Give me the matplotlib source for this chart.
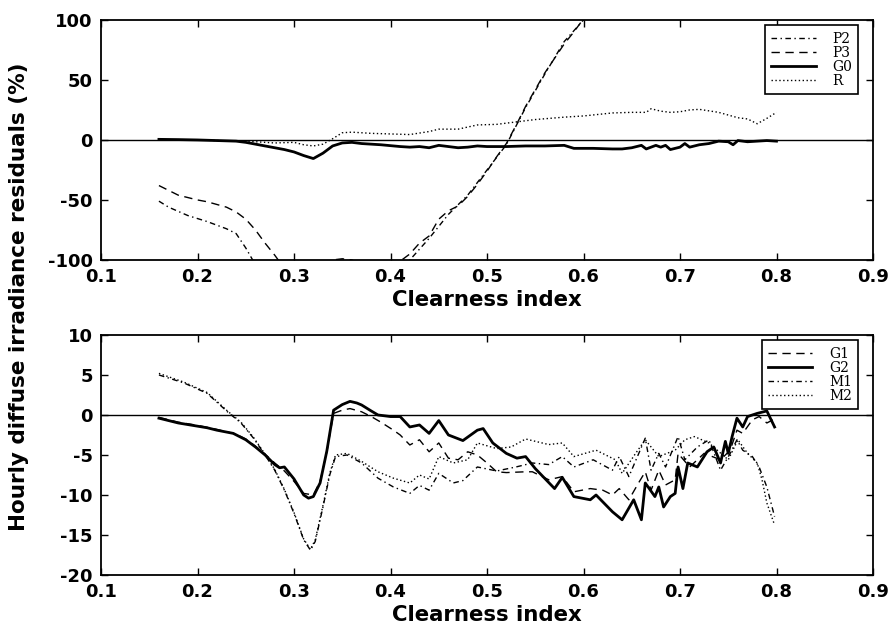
import matplotlib
matplotlib.use("Agg")
import matplotlib.pyplot as plt

# ---------------------------------------------------------------- top panel
P2_X = [0.16, 0.17, 0.19, 0.21, 0.23, 0.24, 0.25, 0.26, 0.28, 0.30, 0.35,
        0.40, 0.42, 0.44, 0.46, 0.48, 0.50, 0.52, 0.54, 0.56, 0.58, 0.60, 0.61]
P2_Y = [-51, -56, -63, -68, -74, -78, -90, -104, -120, -130, -135,
        -120, -100, -82, -62, -46, -25, -4, 27, 55, 82, 100, 115]

P3_X = [0.16, 0.18, 0.20, 0.21, 0.23, 0.24, 0.25, 0.26, 0.27, 0.28, 0.29,
        0.30, 0.32, 0.33, 0.34, 0.35, 0.36, 0.37, 0.39, 0.41, 0.42, 0.43,
        0.44, 0.45, 0.46, 0.47, 0.48, 0.49, 0.50, 0.51, 0.52, 0.53, 0.54,
        0.55, 0.56, 0.57, 0.58, 0.59, 0.60, 0.61]
P3_Y = [-38, -46, -50, -51.5, -56, -60, -66, -75, -86, -96, -107,
        -115, -118, -110, -100, -99, -100, -104, -106, -101, -95, -86,
        -80, -66, -59, -55, -47, -37, -26, -14, -3, 12, 28,
        42, 56, 68, 80, 90, 101, 112]

G0_X = [0.16, 0.18, 0.20, 0.22, 0.24, 0.25, 0.27, 0.29, 0.30, 0.31, 0.32,
        0.33, 0.34, 0.35, 0.36, 0.37, 0.39, 0.41, 0.42, 0.43, 0.44, 0.45,
        0.46, 0.47, 0.48, 0.49, 0.50, 0.52, 0.54, 0.56, 0.58, 0.59, 0.61,
        0.63, 0.64, 0.65, 0.66, 0.665, 0.675, 0.68, 0.685, 0.69, 0.70,
        0.705, 0.71, 0.72, 0.73, 0.74, 0.75, 0.755, 0.76, 0.77, 0.78,
        0.79, 0.80]
G0_Y = [0.5, 0.3, 0, -0.5, -1, -2, -5, -8, -10, -13, -15.5,
        -11, -5, -2.5, -2, -3, -4, -5.5, -6, -5.5, -6.5, -4.5,
        -5.5, -6.5, -6, -5, -5.5, -5.5, -5, -5, -4.5, -7, -7,
        -7.5, -7.5, -6.5, -4.5, -7.5, -4.5, -6, -4.5, -8, -6,
        -3, -6, -4, -3, -1, -1.5, -4, -0.5, -1.5, -1,
        -0.5, -1]

R_X = [0.16, 0.20, 0.24, 0.26, 0.28, 0.30, 0.31, 0.32, 0.33, 0.34, 0.35,
       0.36, 0.38, 0.40, 0.42, 0.44, 0.45, 0.47, 0.49, 0.51, 0.53, 0.55,
       0.58, 0.60, 0.63, 0.65, 0.665, 0.67, 0.68, 0.69, 0.70, 0.71, 0.72,
       0.74, 0.76, 0.77, 0.78, 0.79, 0.80]
R_Y = [0, 0, -1, -1.5, -2.5, -2, -4, -5, -3.5, 1, 6,
       6.5, 5.5, 5, 4.5, 7, 9, 9, 12.5, 13, 15, 17,
       19, 20, 22.5, 23, 23, 26, 24, 23, 23.5, 25, 25.5,
       23, 18.5, 17.5, 13.5, 18, 23]

# ------------------------------------------------------------- bottom panel
G1_X = [0.16, 0.18, 0.20, 0.22, 0.24, 0.25, 0.26, 0.27, 0.28, 0.29, 0.30,
        0.31, 0.32, 0.327, 0.334, 0.341, 0.35, 0.358, 0.37, 0.38, 0.39,
        0.403, 0.41, 0.42, 0.43, 0.44, 0.45, 0.46, 0.47, 0.48, 0.49, 0.50,
        0.51, 0.52, 0.54, 0.547, 0.564, 0.578, 0.59, 0.607, 0.62, 0.63,
        0.637, 0.647, 0.657, 0.664, 0.67, 0.678, 0.685, 0.695, 0.698,
        0.71, 0.725, 0.742, 0.752, 0.759, 0.765, 0.775, 0.782, 0.79, 0.798]
G1_Y = [-0.3, -0.9, -1.3, -1.8, -2.4, -3.0, -3.9, -4.9, -6.0, -7.0, -8.3,
        -9.8, -10.0, -8.3, -4.6, 0.2, 0.6, 0.8, 0.4, -0.2, -0.9,
        -1.9, -2.5, -3.75, -3.1, -4.6, -3.5, -5.4, -5.6, -4.6, -5.0, -6.0,
        -7.1, -7.2, -7.1, -7.1, -8.1, -7.7, -9.6, -9.2, -9.4, -10.0,
        -9.2, -10.6, -8.5, -7.1, -9.4, -6.9, -8.75, -8.1, -4.8,
        -6.5, -4.8, -5.6, -4.4, -1.9, -2.3, -0.6, -0.2, -1.0, -0.5]

G2_X = [0.16, 0.18, 0.20, 0.21, 0.22, 0.237, 0.25, 0.26, 0.27, 0.28, 0.285,
        0.29, 0.30, 0.31, 0.315, 0.32, 0.327, 0.334, 0.341, 0.35, 0.358,
        0.365, 0.37, 0.38, 0.387, 0.40, 0.41, 0.42, 0.43, 0.44, 0.45,
        0.46, 0.475, 0.49, 0.496, 0.506, 0.52, 0.531, 0.54, 0.55, 0.57,
        0.578, 0.59, 0.607, 0.613, 0.63, 0.64, 0.652, 0.66, 0.664, 0.674,
        0.678, 0.683, 0.69, 0.695, 0.698, 0.703, 0.708, 0.718, 0.728,
        0.735, 0.742, 0.747, 0.75, 0.754, 0.759, 0.765, 0.77, 0.78, 0.79,
        0.798]
G2_Y = [-0.4, -1.0, -1.4, -1.6, -1.9, -2.3, -3.1, -4.0, -5.0, -6.2, -6.6,
        -6.5, -8.0, -10.0, -10.4, -10.2, -8.5, -4.5, 0.6, 1.3, 1.7,
        1.5, 1.25, 0.5, 0, -0.2, -0.2, -1.5, -1.25, -2.3, -0.7,
        -2.5, -3.2, -1.9, -1.7, -3.5, -4.8, -5.4, -5.2, -6.7, -9.2,
        -7.8, -10.2, -10.6, -10.0, -12.1, -13.1, -10.6, -13.1, -8.5, -10.2,
        -9.0, -11.5, -10.2, -9.8, -6.5, -9.2, -6.0, -6.5, -4.6,
        -4.0, -6.0, -3.3, -4.8, -2.7, -0.4, -1.5, -0.2, 0.2, 0.5,
        -1.5]

M1_X = [0.16, 0.186, 0.21, 0.231, 0.245, 0.258, 0.27, 0.28, 0.29, 0.30,
        0.31, 0.317, 0.322, 0.33, 0.337, 0.343, 0.355, 0.37, 0.387, 0.403,
        0.42, 0.43, 0.44, 0.45, 0.465, 0.475, 0.49, 0.51, 0.53, 0.547,
        0.564, 0.578, 0.59, 0.61, 0.63, 0.637, 0.647, 0.664, 0.67, 0.678,
        0.685, 0.698, 0.705, 0.718, 0.73, 0.742, 0.752, 0.759, 0.765,
        0.775, 0.782, 0.79, 0.798]
M1_Y = [5.0, 4.0, 2.7, 0.4, -1.0, -2.9, -5.0, -6.9, -9.4, -12.3,
        -15.6, -16.9, -15.8, -11.5, -7.5, -5.2, -5.0, -6.0, -7.9, -9.0,
        -9.8, -8.8, -9.4, -7.3, -8.5, -8.2, -6.5, -7.0, -6.5, -6.0,
        -6.2, -5.2, -6.5, -5.6, -6.9, -5.2, -7.7, -2.9, -6.9, -4.8,
        -6.5, -2.7, -5.6, -4.0, -3.1, -6.9, -4.8, -3.1, -4.4,
        -5.2, -6.5, -9.0, -12.7]

M2_X = [0.16, 0.186, 0.21, 0.231, 0.245, 0.258, 0.27, 0.28, 0.29, 0.30,
        0.31, 0.317, 0.322, 0.33, 0.337, 0.343, 0.355, 0.37, 0.387, 0.403,
        0.42, 0.43, 0.44, 0.45, 0.465, 0.48, 0.49, 0.51, 0.525, 0.54,
        0.564, 0.578, 0.59, 0.613, 0.633, 0.64, 0.654, 0.664, 0.678,
        0.695, 0.705, 0.715, 0.73, 0.75, 0.76, 0.77, 0.78, 0.785, 0.79,
        0.798]
M2_Y = [5.2, 4.1, 2.8, 0.5, -0.9, -2.8, -4.9, -6.8, -9.3, -12.2,
        -15.5, -16.8, -15.6, -11.3, -7.3, -5.0, -4.8, -5.8, -7.1, -7.9,
        -8.5, -7.5, -8.0, -5.2, -6.0, -5.6, -3.5, -4.2, -4.0, -3.0,
        -3.7, -3.5, -5.2, -4.4, -5.6, -7.3, -4.8, -3.1, -5.2,
        -4.4, -3.1, -2.7, -3.5, -5.6, -3.1, -4.8, -6.0, -8.1, -11.0,
        -13.75]

X_TICKS = [0.1, 0.2, 0.3, 0.4, 0.5, 0.6, 0.7, 0.8, 0.9]
TOP_YTICKS = [-100, -50, 0, 50, 100]
BOT_YTICKS = [-20, -15, -10, -5, 0, 5, 10]

DASH = (0, (6, 4))
DASHDOT = (0, (4, 2.5, 1, 2.5))
DOT = (0, (1, 1.8))
SERIF = "DejaVu Serif"


def style_axes(ax, yticks):
    ax.set_xlim(0.1, 0.9)
    ax.set_xticks(X_TICKS)
    ax.set_yticks(yticks)
    ax.set_ylim(yticks[0], yticks[-1])
    ax.set_xticklabels([f"{v:.1f}" for v in X_TICKS])
    ax.set_yticklabels([str(v) for v in yticks])
    ax.tick_params(direction="in", top=True, right=True, length=5, width=1,
                   labelsize=13, pad=6)
    for lab in ax.get_xticklabels() + ax.get_yticklabels():
        lab.set_fontweight("bold")
    for sp in ax.spines.values():
        sp.set_linewidth(1.3)
    ax.axhline(0, color="black", lw=1.0)
    ax.set_xlabel("Clearness index", fontsize=15.3, fontweight="bold",
                  labelpad=3)


fig = plt.figure(figsize=(8.91, 6.35), dpi=100)
ax1 = fig.add_axes([0.1134, 0.5906, 0.8664, 0.378])
ax2 = fig.add_axes([0.1134, 0.0945, 0.8664, 0.378])

ax1.plot(P2_X, P2_Y, color="black", lw=1.0, ls=DASHDOT, label="P2")
ax1.plot(P3_X, P3_Y, color="black", lw=1.0, ls=DASH, label="P3")
ax1.plot(G0_X, G0_Y, color="black", lw=2.0, ls="-", label="G0")
ax1.plot(R_X, R_Y, color="black", lw=1.0, ls=DOT, label="R")
style_axes(ax1, TOP_YTICKS)

ax2.plot(G1_X, G1_Y, color="black", lw=1.0, ls=DASH, label="G1")
ax2.plot(G2_X, G2_Y, color="black", lw=2.0, ls="-", label="G2")
ax2.plot(M1_X, M1_Y, color="black", lw=1.0, ls=DASHDOT, label="M1")
ax2.plot(M2_X, M2_Y, color="black", lw=1.0, ls=DOT, label="M2")
style_axes(ax2, BOT_YTICKS)

for ax in (ax1, ax2):
    leg = ax.legend(loc="upper right", bbox_to_anchor=(0.981, 0.977),
                    prop={"family": SERIF, "size": 10}, labelspacing=0.0,
                    handlelength=3.2, handletextpad=1.2, borderpad=0.45,
                    borderaxespad=0.0, fancybox=False, framealpha=1.0,
                    edgecolor="black")
    leg.get_frame().set_linewidth(1.2)

fig.text(0.021, 0.532, "Hourly diffuse irradiance residuals (%)", rotation=90,
         ha="center", va="center", fontsize=15.5, fontweight="bold")

fig.savefig("out.png", dpi=100)
